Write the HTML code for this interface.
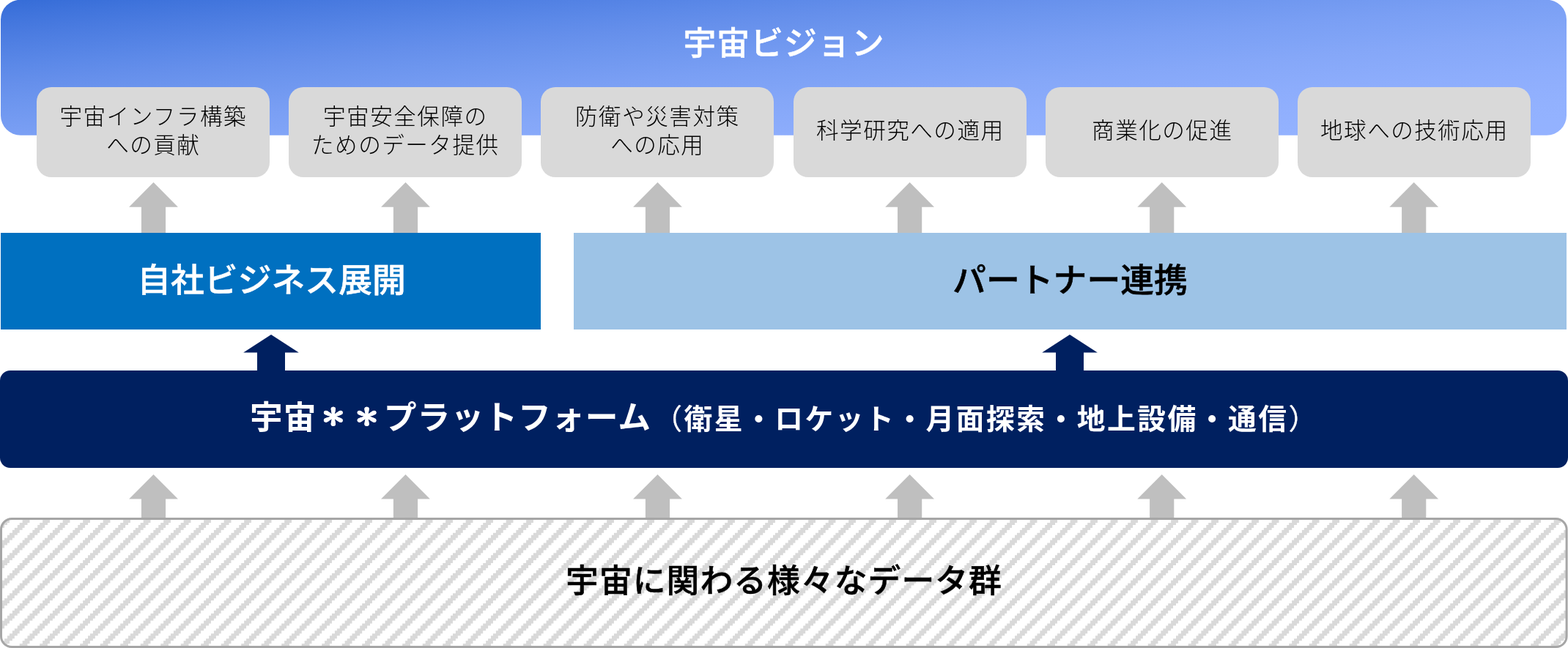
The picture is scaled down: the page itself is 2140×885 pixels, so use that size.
<!DOCTYPE html>
<html lang="ja">
<head>
<meta charset="utf-8">
<title>宇宙ビジョン</title>
<style>
html,body{margin:0;padding:0;background:#fff;}
body{width:2140px;height:885px;position:relative;overflow:hidden;font-family:"Liberation Sans","Noto Sans CJK JP",sans-serif;}
.t{position:absolute;white-space:nowrap;text-align:center;margin:0;will-change:transform;}
.b{font-weight:500;-webkit-text-stroke:0.55px currentColor;paint-order:stroke fill;}
.title{left:-0.4px;width:2140px;top:26.4px;font-size:44.8px;letter-spacing:1.03px;line-height:66px;color:#fff;}
.box{font-weight:300;font-size:30.6px;letter-spacing:1.48px;line-height:39px;color:#000;width:318px;top:119px;height:123px;display:flex;align-items:center;justify-content:center;}
.box span{display:block;position:relative;top:-2px;left:0.3px;}
.own{left:1.5px;width:737px;top:317.5px;height:132px;line-height:132px;font-size:45.83px;color:#fff;}
.partner{left:783px;width:1355px;top:318px;height:132px;line-height:132px;font-size:45.83px;color:#000;}
.plat{left:0px;width:2139.5px;top:504.4px;height:133px;line-height:133px;font-size:44.8px;letter-spacing:1.03px;color:#fff;font-weight:700;-webkit-text-stroke:0;}
.plat .s{font-size:38.8px;letter-spacing:2.45px;margin-left:3.2px;margin-right:-1.2px;}
.plat .p{font-weight:400;-webkit-text-stroke:0.3px currentColor;}
.plat .a{font-family:"Liberation Sans","IPAGothic","Noto Sans CJK JP",sans-serif;font-size:41px;letter-spacing:4.83px;margin-left:1.9px;margin-right:-2.4px;position:relative;top:-2.5px;-webkit-text-stroke:0.4px currentColor;display:inline-block;transform:scaleY(0.9);}
.data{left:0px;width:2140px;top:703.6px;height:178px;line-height:178px;font-size:44.8px;letter-spacing:1.03px;color:#000;}
</style>
</head>
<body>
<svg width="2140" height="885" viewBox="0 0 2140 885" style="position:absolute;left:0;top:0">
<defs>
<linearGradient id="g" gradientUnits="objectBoundingBox" x1="0" y1="0" x2="1" y2="1"><stop offset="0.0000" stop-color="#356CD7"/><stop offset="0.0625" stop-color="#4074DC"/><stop offset="0.1250" stop-color="#4A7BE0"/><stop offset="0.1875" stop-color="#5382E4"/><stop offset="0.2500" stop-color="#5C89E8"/><stop offset="0.3125" stop-color="#658FEB"/><stop offset="0.3750" stop-color="#6C95EE"/><stop offset="0.4375" stop-color="#739AF1"/><stop offset="0.5000" stop-color="#7A9FF4"/><stop offset="0.5625" stop-color="#7FA3F6"/><stop offset="0.6250" stop-color="#85A7F8"/><stop offset="0.6875" stop-color="#89AAFA"/><stop offset="0.7500" stop-color="#8DADFC"/><stop offset="0.8125" stop-color="#90AFFD"/><stop offset="0.8750" stop-color="#92B1FE"/><stop offset="0.9375" stop-color="#93B2FF"/><stop offset="1.0000" stop-color="#94B2FF"/></linearGradient>
<pattern id="h" patternUnits="userSpaceOnUse" x="-0.8" y="22.6200" width="27.5" height="27.5"><rect width="27.5" height="27.5" fill="#fff"/><g fill="#D9D9D9" shape-rendering="crispEdges"><rect x="3.4375" y="0.0000" width="10.3125" height="3.4375"/><rect x="0.0000" y="3.4375" width="10.3125" height="3.4375"/><rect x="24.0625" y="6.8750" width="3.4375" height="3.4375"/><rect x="0.0000" y="6.8750" width="6.8750" height="3.4375"/><rect x="20.6250" y="10.3125" width="6.8750" height="3.4375"/><rect x="0.0000" y="10.3125" width="3.4375" height="3.4375"/><rect x="17.1875" y="13.7500" width="10.3125" height="3.4375"/><rect x="13.7500" y="17.1875" width="10.3125" height="3.4375"/><rect x="10.3125" y="20.6250" width="10.3125" height="3.4375"/><rect x="6.8750" y="24.0625" width="10.3125" height="3.4375"/></g></pattern>
</defs>
<rect x="1" y="-0.3" width="2137" height="185" rx="27" ry="27" fill="url(#g)"/>
<path fill="#BFBFBF" d="M209.50 249.00L242.90 282.70H226.10V319.00H192.90V282.70H176.10Z"/>
<path fill="#BFBFBF" d="M553.50 249.00L586.90 282.70H570.10V319.00H536.90V282.70H520.10Z"/>
<path fill="#BFBFBF" d="M897.50 249.00L930.90 282.70H914.10V319.00H880.90V282.70H864.10Z"/>
<path fill="#BFBFBF" d="M1241.60 249.00L1275.00 282.70H1258.20V319.00H1225.00V282.70H1208.20Z"/>
<path fill="#BFBFBF" d="M1585.70 249.00L1619.10 282.70H1602.30V319.00H1569.10V282.70H1552.30Z"/>
<path fill="#BFBFBF" d="M1929.70 249.00L1963.10 282.70H1946.30V319.00H1913.10V282.70H1896.30Z"/>
<rect x="50" y="119" width="318" height="123" rx="20" ry="20" fill="#D9D9D9"/>
<rect x="394" y="119" width="318" height="123" rx="20" ry="20" fill="#D9D9D9"/>
<rect x="738" y="119" width="318" height="123" rx="20" ry="20" fill="#D9D9D9"/>
<rect x="1083" y="119" width="318" height="123" rx="20" ry="20" fill="#D9D9D9"/>
<rect x="1427" y="119" width="318" height="123" rx="20" ry="20" fill="#D9D9D9"/>
<rect x="1771" y="119" width="318" height="123" rx="20" ry="20" fill="#D9D9D9"/>
<rect x="1" y="318" width="737" height="132" fill="#0070C0"/>
<rect x="783" y="318" width="1355" height="132" fill="#9DC3E6"/>
<path fill="#002060" d="M370.00 456.90L407.80 481.60H389.00V508.00H351.00V481.60H332.20Z"/>
<path fill="#002060" d="M1460.00 456.90L1497.80 481.60H1479.00V508.00H1441.00V481.60H1422.20Z"/>
<rect x="0" y="506" width="2140" height="133" rx="14" ry="14" fill="#002060"/>
<path fill="#BFBFBF" d="M209.50 648.00L242.90 681.50H226.10V709.00H192.90V681.50H176.10Z"/>
<path fill="#BFBFBF" d="M553.50 648.00L586.90 681.50H570.10V709.00H536.90V681.50H520.10Z"/>
<path fill="#BFBFBF" d="M897.50 648.00L930.90 681.50H914.10V709.00H880.90V681.50H864.10Z"/>
<path fill="#BFBFBF" d="M1241.60 648.00L1275.00 681.50H1258.20V709.00H1225.00V681.50H1208.20Z"/>
<path fill="#BFBFBF" d="M1585.70 648.00L1619.10 681.50H1602.30V709.00H1569.10V681.50H1552.30Z"/>
<path fill="#BFBFBF" d="M1929.70 648.00L1963.10 681.50H1946.30V709.00H1913.10V681.50H1896.30Z"/>
<rect x="1.5" y="708.6" width="2136.6" height="174.9" rx="14.5" ry="14.5" fill="url(#h)" stroke="#A6A6A6" stroke-width="3"/>
</svg>
<div class="t b title">宇宙ビジョン</div>
<div class="t box" style="left:50px"><span>宇宙インフラ構築<br>への貢献</span></div>
<div class="t box" style="left:394px"><span>宇宙安全保障の<br>ためのデータ提供</span></div>
<div class="t box" style="left:738px"><span>防衛や災害対策<br>への応用</span></div>
<div class="t box" style="left:1083px"><span>科学研究への適用</span></div>
<div class="t box" style="left:1427px"><span>商業化の促進</span></div>
<div class="t box" style="left:1771px"><span>地球への技術応用</span></div>
<div class="t b own">自社ビジネス展開</div>
<div class="t b partner">パートナー連携</div>
<div class="t b plat">宇宙<span class="a">＊＊</span>プラットフォーム<span class="s"><span class="p">（</span>衛星・ロケット・月面探索・地上設備・通信<span class="p">）</span></span></div>
<div class="t b data">宇宙に関わる様々なデータ群</div>
</body>
</html>
